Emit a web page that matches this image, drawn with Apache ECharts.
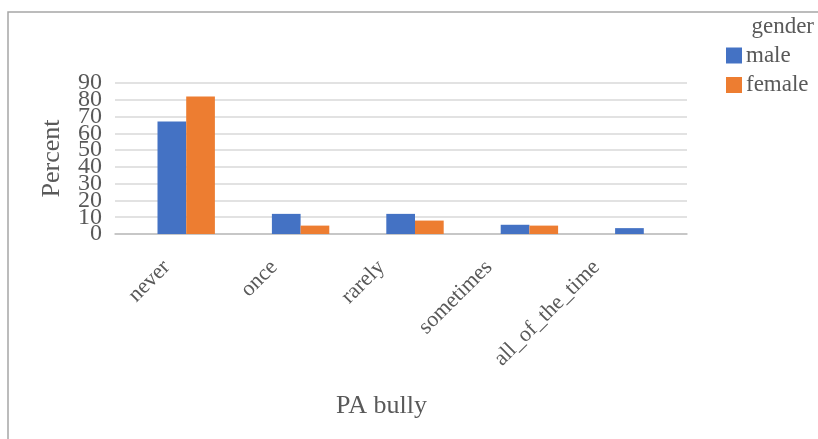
<!DOCTYPE html>
<html><head><meta charset="utf-8">
<script src="https://cdn.jsdelivr.net/npm/echarts@6/dist/echarts.min.js"></script>
<style>html,body{margin:0;padding:0;background:#fff}#c{width:818px;height:439px}</style>
</head><body><div id="c"></div>
<script>
const categories = ['never', 'once', 'rarely', 'sometimes', 'all_of_the_time'];
const male = [67, 12, 12, 5.5, 3.5];
const female = [82, 5, 8, 5, 0];
const yTicks = [0, 10, 20, 30, 40, 50, 60, 70, 80, 90];
const seriesNames = ['male', 'female'];

const serif = '"Liberation Serif", "DejaVu Serif", serif';
const txt = '#595959';
const yMin = yTicks[0], yMax = yTicks[yTicks.length - 1];
const labelBase = {fontFamily: serif, fontSize: 24, lineHeight: 12, color: txt, margin: 13};
const chart = echarts.init(document.getElementById('c'), null, {renderer: 'canvas'});
chart.setOption({
  animation: false,
  backgroundColor: '#fff',
  graphic: [{
    type: 'rect', shape: {x: 8, y: 12, width: 830, height: 450},
    style: {fill: 'none', stroke: '#a6a6a6', lineWidth: 1.5}, silent: true
  }],
  title: {
    text: 'gender', right: 4, top: 15, padding: 0,
    textStyle: {fontFamily: serif, fontSize: 23, fontWeight: 'normal', color: txt}
  },
  legend: {
    orient: 'vertical', left: 726, top: 44, padding: 0,
    itemWidth: 16, itemHeight: 16, itemGap: 6.5,
    icon: 'rect', data: seriesNames,
    textStyle: {fontFamily: serif, fontSize: 23, color: txt, padding: [0, 0, 0, -1]}
  },
  grid: [
    {left: 115, width: 572, top: 83, height: 151, containLabel: false},
    {left: 129, width: 572, top: 83, height: 151, containLabel: false},
    {left: 113, width: 537, top: 83, height: 151, containLabel: false}
  ],
  xAxis: [
    {gridIndex: 0, type: 'category', data: categories,
     axisLine: {show: true, lineStyle: {color: '#bfbfbf', width: 1.5}},
     axisTick: {show: false}, axisLabel: {show: false}, splitLine: {show: false}},
    {gridIndex: 1, type: 'category', data: categories,
     axisLine: {show: false}, axisTick: {show: false}, axisLabel: {show: false}},
    {gridIndex: 2, type: 'category', data: categories,
     axisLine: {show: false}, axisTick: {show: false},
     axisLabel: {rotate: 45, margin: 30, fontFamily: serif, fontSize: 22, color: txt, interval: 0},
     name: 'PA bully', nameLocation: 'middle', nameGap: 159,
     nameTextStyle: {fontFamily: serif, fontSize: 26, color: txt}}
  ],
  yAxis: [
    {gridIndex: 0, type: 'value', min: yMin, max: yMax, interval: 10,
     axisLine: {show: false}, axisTick: {show: false},
     axisLabel: Object.assign({}, labelBase, {
       showMinLabel: false, showMaxLabel: false,
       formatter: v => (yTicks.includes(v) && v !== yMin && v !== yMax) ? String(v) : ''}),
     splitLine: {lineStyle: {color: '#d9d9d9', width: 1.5}},
     name: 'Percent', nameLocation: 'middle', nameGap: 50, nameRotate: 90,
     nameTextStyle: {fontFamily: serif, fontSize: 26, color: txt}},
    {gridIndex: 0, type: 'value', min: yMin, max: yMax, interval: 10,
     position: 'left', offset: 0,
     axisLine: {show: false}, axisTick: {show: false}, splitLine: {show: false},
     axisLabel: Object.assign({}, labelBase, {
       showMinLabel: true, showMaxLabel: true,
       formatter: v => (v === yMin || v === yMax) ? String(v) : ''})},
    {gridIndex: 1, type: 'value', min: yMin, max: yMax, interval: 10, show: false,
     splitLine: {show: false}},
    {gridIndex: 2, type: 'value', min: yMin, max: yMax, interval: 10, show: false,
     splitLine: {show: false}}
  ],
  series: [
    {name: 'male', type: 'bar', xAxisIndex: 1, yAxisIndex: 2, data: male,
     barWidth: 28.7, barGap: '0%', itemStyle: {color: '#4472C4'}},
    {name: 'female', type: 'bar', xAxisIndex: 1, yAxisIndex: 2, data: female,
     barWidth: 28.7, barGap: '0%', itemStyle: {color: '#ED7D31'}}
  ]
});
</script></body></html>
